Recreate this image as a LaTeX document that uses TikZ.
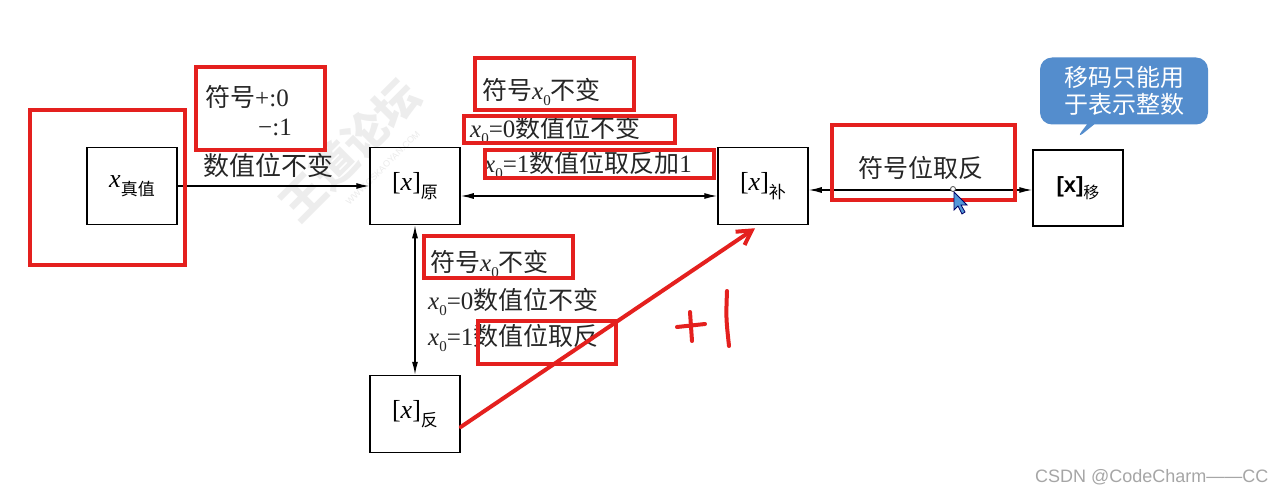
\documentclass[tikz,border=0pt]{standalone}
\usepackage{fontspec}
\setmainfont{Liberation Serif}
\newfontfamily\cjk{Noto Sans CJK SC}
\newfontfamily\sansf{Liberation Sans}
\usetikzlibrary{arrows.meta,shapes.callouts}
\definecolor{redmark}{RGB}{228,32,30}
\definecolor{calloutblue}{RGB}{84,141,205}
\newcommand\xz{\textit{x}\raisebox{-0.22em}{\fontsize{15}{15}\selectfont 0}}
\newcommand\subc[1]{\raisebox{-0.3em}{\fontsize{17}{17}\cjk #1}}
\begin{document}
\begin{tikzpicture}[x=1pt,y=-1pt,
  blk/.style={draw=black,line width=1.5pt,minimum width=90pt,minimum height=77pt,inner sep=0pt,font=\fontsize{26}{30}\selectfont},
  redbox/.style={draw=redmark,line width=4.5pt},
  arr/.style={line width=1.3pt,-{Latex[length=13pt,width=6pt]}},
  darr/.style={line width=1.3pt,{Latex[length=13pt,width=6pt]}-{Latex[length=13pt,width=6pt]}},
  lbl/.style={font=\fontsize{25}{30}\selectfont,inner sep=0pt,anchor=west,text=black!85},
  redpen/.style={draw=redmark,line width=4pt,line cap=round,line join=round}]
\useasboundingbox (0,0) rectangle (1282,500);
\fill[white] (0,0) rectangle (1282,500);
% watermark
\node[rotate=45,text=black!7,font=\fontsize{44}{50}\cjk\bfseries] (wm) at (350,150) {王道论坛};
\node[rotate=45,text=black!8,font=\fontsize{9}{11}\sansf] (wm2) at (383,168) {WWW.CSKAOYAN.COM};
% boxes
\node[blk] (zhen) at (132,186) {\textit{x}\subc{真值}};
\node[blk] (yuan) at (415,186) {[\textit{x}]\subc{原}};
\node[blk] (bu) at (763,186) {[\textit{x}]\subc{补}};
\node[blk,minimum height=76pt] (yi) at (1078,188) {{\sansf\bfseries\fontsize{22}{26}\selectfont [x]}\raisebox{-0.25em}{\fontsize{16}{16}\cjk 移}};
\node[blk] (fan) at (415,414) {[\textit{x}]\subc{反}};
% connectors
\draw[arr] (zhen.east) -- (yuan.west);
\draw[darr] ([yshift=-10pt]yuan.east) -- ([yshift=-10pt]bu.west);
\draw[darr] ([yshift=-4pt]bu.east) -- ([yshift=-2pt]yi.west);
\draw[darr] (yuan.south) -- (fan.north);
% labels
\node[lbl] (l1) at (205,97) {{\cjk 符号}+:0};
\node[lbl] (l2) at (258,127) {−:1};
\node[lbl,font=\fontsize{26}{30}\selectfont] (l3) at (203,166) {\cjk 数值位不变};
\node[lbl] (l4) at (482,92) {{\cjk 符号}\xz{\cjk 不变}};
\node[lbl] (l5) at (470,130) {\xz=0{\cjk 数值位不变}};
\node[lbl] (l6) at (484,165) {\xz=1{\cjk 数值位取反加}1};
\node[lbl] (l7) at (858,168) {\cjk 符号位取反};
\node[lbl] (l8) at (430,264) {{\cjk 符号}\xz{\cjk 不变}};
\node[lbl] (l9) at (428,302) {\xz=0{\cjk 数值位不变}};
\node[lbl] (l10) at (428,338) {\xz=1{\cjk 数值位取反}};
% callout
\node[rectangle callout,rounded corners=12pt,fill=calloutblue,text=white,minimum width=168pt,minimum height=67pt,
  align=center,font=\fontsize{24}{27}\cjk,callout absolute pointer={(1075,140)}] (co) at (1124,91) {移码只能用\\于表示整数};
% red highlight boxes
\draw[redbox] (30,110) rectangle (185,265);
\draw[redbox] (196,67) rectangle (325,150);
\draw[redbox] (475,58) rectangle (634,110);
\draw[redbox] (464,116) rectangle (675,143);
\draw[redbox] (485,150) rectangle (714,178);
\draw[redbox] (832,125) rectangle (1015,200);
\draw[redbox] (424,236) rectangle (573,278);
\draw[redbox] (478,321) rectangle (616,364);
% red pen arrow and +1
\coordinate (penend) at ([xshift=-8pt,yshift=-3pt]bu.south);
\draw[redpen,-{Straight Barb[length=14pt,width=16pt]}] ([yshift=-13pt]fan.east) -- (penend);
\draw[redpen] (677,327) -- (705,324);
\draw[redpen] (690,312) -- (692,341);
\draw[redpen] (727,291) .. controls (726,318) .. (729,346);
% cursor
\coordinate (cur) at (953,189);
\draw[black!70,fill=white,line width=0.8pt] (cur) circle (2.5pt);
\draw[fill=cyan!60!blue!70,draw=blue!40!black,line width=0.8pt]
  (954,192) -- (954,210) -- (958,206) -- (962,214) -- (965,212) -- (961,205) -- (967,205) -- cycle;
% footer
\node[anchor=east,text=black!35,font=\fontsize{18}{20}\sansf] (csdn) at (1272,477) {CSDN @CodeCharm——CC};
\end{tikzpicture}
\end{document}
